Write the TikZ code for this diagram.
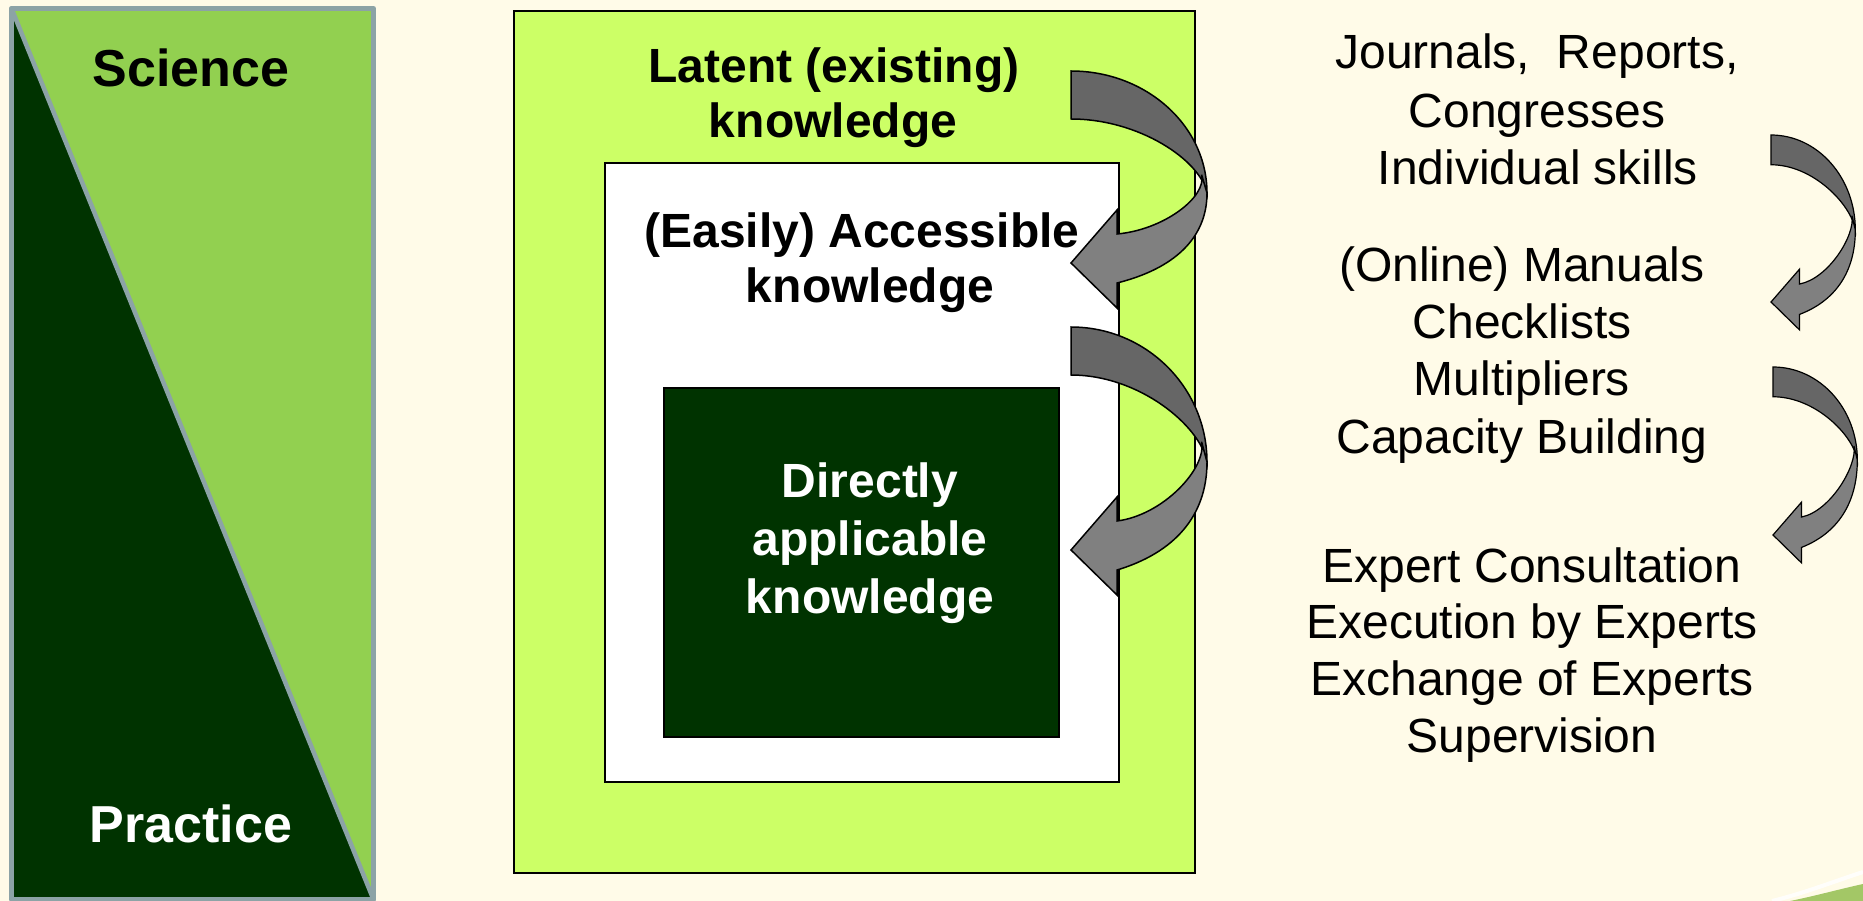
\documentclass[tikz,border=0pt]{standalone}
\usepackage{fontspec}
\setmainfont{Liberation Sans}

\definecolor{paper}{HTML}{FFFBE8}
\definecolor{polelight}{HTML}{92D050}
\definecolor{poledark}{HTML}{003300}
\definecolor{poleedge}{HTML}{8CA3A6}
\definecolor{latentfill}{HTML}{CCFF66}
\definecolor{ribbondark}{HTML}{666666}
\definecolor{ribbonlight}{HTML}{808080}
\definecolor{swooshgreen}{HTML}{A3C766}

% Curved ribbon arrow: #1 tail x, #2 tail top y, #3 y of the outer bend,
% #4 y of the tip, #5 size factor (widths and thickness)
\newcommand{\ribbonarrow}[5]{%
  \pgfmathsetmacro{\raW}{136*#5}%
  \pgfmathsetmacro{\raT}{48*#5}%
  \pgfmathsetmacro{\raHx}{#1+46*#5}%
  \pgfmathsetmacro{\raHa}{#4-29*#5}%
  \pgfmathsetmacro{\raHb}{#4+20*#5}%
  \pgfmathsetmacro{\raBa}{#4-53*#5}%
  \pgfmathsetmacro{\raBb}{#4+45*#5}%
  \pgfmathsetmacro{\raDa}{#3-#2}%
  \pgfmathsetmacro{\raDb}{\raHb-#3}%
  \pgfmathsetmacro{\raDc}{\raHa-#3}%
  \filldraw[ribbonback]
    (#1,#2) .. controls ({#1+0.552*\raW},#2) and ({#1+\raW},{#3-0.552*\raDa}) .. ({#1+\raW},#3)
    .. controls ({#1+0.95*\raW},{#3-0.27*\raDa}) and ({#1+0.5*\raW},{#2+\raT}) .. (#1,{#2+\raT}) -- cycle;
  \filldraw[ribbonfront]
    ({#1+0.96*\raW},{#3-0.15*\raDa}) .. controls ({#1+\raW},{#3+0.1*\raDc}) and ({#1+0.68*\raW},{\raHa-0.1*\raDc}) .. (\raHx,\raHa)
    -- (\raHx,\raBa) -- (#1,#4) -- (\raHx,\raBb) -- (\raHx,\raHb)
    .. controls ({#1+0.76*\raW},{\raHb-0.16*\raDb}) and ({#1+\raW},{#3+0.5*\raDb}) .. ({#1+\raW},#3) -- cycle;
}

\begin{document}
\begin{tikzpicture}[x=1pt,y=-1pt,
  box/.style={draw=black, line width=2pt, anchor=north west, inner sep=0pt},
  boxlabel/.style={font=\fontsize{48}{55}\selectfont\bfseries, anchor=base, inner sep=0pt},
  sidelabel/.style={font=\fontsize{48}{55}\selectfont, anchor=base, inner sep=0pt},
  polelabel/.style={font=\fontsize{52}{60}\selectfont\bfseries, anchor=base, inner sep=0pt},
  ribbonback/.style={fill=ribbondark, draw=black, line width=1.5pt},
  ribbonfront/.style={fill=ribbonlight, draw=black, line width=1.5pt},
]
\useasboundingbox (0,0) rectangle (1863,901);
\fill[paper] (0,0) rectangle (1863,901);

% Science / Practice pole
\fill[polelight] (11.5,8.5) rectangle (373.5,899.5);
\fill[poledark] (11.5,8.5) -- (373.5,899.5) -- (11.5,899.5) -- cycle;
\draw[poleedge, line width=5pt, line join=round] (11.5,8.5) rectangle (373.5,899.5);
\draw[poleedge, line width=4.5pt, line cap=round] (11.5,8.5) -- (373.5,899.5);
\node[polelabel] (science) at (191,87) {Science};
\node[polelabel, text=white] (practice) at (191,842) {Practice};

% Nested knowledge boxes
\node[box, fill=latentfill, minimum width=681pt, minimum height=862pt] (latent) at (513,10) {};
\node[box, fill=white, minimum width=514pt, minimum height=619pt] (access) at (604,162) {};
\node[box, fill=poledark, minimum width=395pt, minimum height=349pt] (direct) at (663,387) {};

\node[boxlabel] (latentA) at (834,83) {Latent (existing)};
\node[boxlabel] (latentB) at (833,138) {knowledge};
\node[boxlabel] (accessA) at (862,248) {(Easily) Accessible};
\node[boxlabel] (accessB) at (870,302) {knowledge};
\node[boxlabel, text=white] (directA) at (870,497) {Directly};
\node[boxlabel, text=white] (directB) at (870,555) {applicable};
\node[boxlabel, text=white] (directC) at (870,613) {knowledge};

% Ribbon arrows between the boxes
\ribbonarrow{1071}{71}{193}{263}{1}
\ribbonarrow{1071}{327}{462}{550}{1}

% Channels of knowledge transfer
\node[sidelabel] (journals) at (1537,69) {Journals,\ \ Reports,};
\node[sidelabel] (congress) at (1537,128) {Congresses};
\node[sidelabel] (skills) at (1538,185) {Individual skills};

\node[sidelabel] (manuals) at (1522,282) {(Online) Manuals};
\node[sidelabel] (checklists) at (1522,338) {Checklists};
\node[sidelabel] (multipliers) at (1522,395) {Multipliers};
\node[sidelabel] (capacity) at (1522,453) {Capacity Building};

\node[sidelabel] (consult) at (1532,582) {Expert Consultation};
\node[sidelabel] (execution) at (1532,638) {Execution by Experts};
\node[sidelabel] (exchange) at (1532,695) {Exchange of Experts};
\node[sidelabel] (supervision) at (1532,752) {Supervision};

\begin{scope}[ribbonback/.append style={line width=1.2pt}, ribbonfront/.append style={line width=1.2pt}]
\ribbonarrow{1771}{135}{230}{302}{0.62}
\ribbonarrow{1773}{367}{460}{535}{0.62}
\end{scope}

% Corner swoosh
\fill[swooshgreen] (1790,901) .. controls (1815,896) and (1840,889) .. (1863,884) -- (1863,901) -- cycle;
\draw[white, line width=4pt, opacity=0.85] (1772,901) .. controls (1805,893) and (1835,881) .. (1863,872);
\end{tikzpicture}
\end{document}
